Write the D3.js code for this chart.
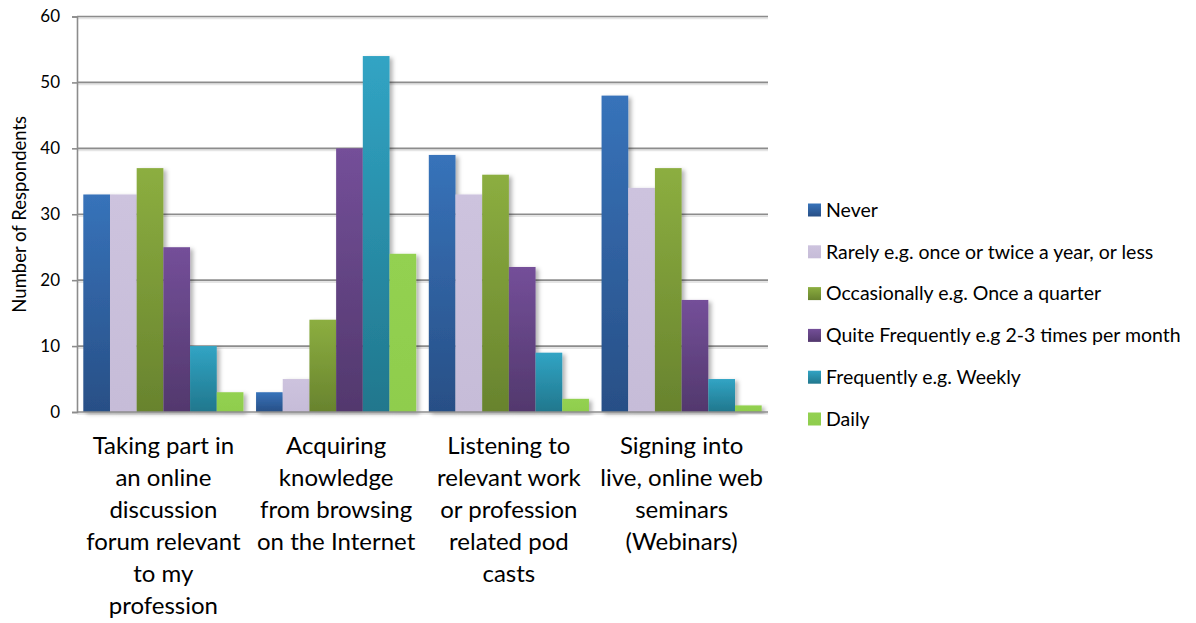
<!DOCTYPE html>
<html>
<head>
<meta charset="utf-8">
<script src="https://cdn.jsdelivr.net/npm/d3@7"></script>
<style>
  html, body { margin: 0; padding: 0; background: #fff; }
  svg { display: block; font-family: "Lato", "Open Sans", sans-serif; }
</style>
</head>
<body>
<svg id="chart" width="1196" height="623"></svg>
<script>
// Survey activities (x categories), each split into multi-line labels
const categories = [
  ["Taking part in", "an online", "discussion", "forum relevant", "to my", "profession"],
  ["Acquiring", "knowledge", "from browsing", "on the Internet"],
  ["Listening to", "relevant work", "or profession", "related pod", "casts"],
  ["Signing into", "live, online web", "seminars", "(Webinars)"]
];
const seriesNames = [
  "Never",
  "Rarely e.g. once or twice a year, or less",
  "Occasionally e.g. Once a quarter",
  "Quite Frequently e.g 2-3 times per month",
  "Frequently e.g. Weekly",
  "Daily"
];
// Respondent counts per series, one value per category
const never        = [33, 3, 39, 48];
const rarely       = [33, 5, 33, 34];
const occasionally = [37, 14, 36, 37];
const quiteFreq    = [25, 40, 22, 17];
const frequently   = [10, 54, 9, 5];
const daily        = [3, 24, 2, 1];
const yTicks = [0, 10, 20, 30, 40, 50, 60];

const seriesValues = [never, rarely, occasionally, quiteFreq, frequently, daily];
// gradient stops (top, bottom) per series
const seriesColors = [
  ["#3773ba", "#284f86"],
  ["#cdc3de", "#c6bcd8"],
  ["#8cae40", "#68832e"],
  ["#744f99", "#52386d"],
  ["#31a4c4", "#21778d"],
  ["#93d151", "#8fcd4d"]
];

const svg = d3.select("#chart");
const plot = { left: 77, right: 768, top: 16.5, bottom: 412 };

const defs = svg.append("defs");
seriesColors.forEach((c, i) => {
  const g = defs.append("linearGradient")
    .attr("id", "grad" + i).attr("x1", 0).attr("y1", 0).attr("x2", 0).attr("y2", 1);
  g.append("stop").attr("offset", "0%").attr("stop-color", c[0]);
  g.append("stop").attr("offset", "100%").attr("stop-color", c[1]);
});
const shadow = defs.append("filter").attr("id", "shadow")
  .attr("x", "-20%").attr("y", "-20%").attr("width", "150%").attr("height", "150%");
shadow.append("feDropShadow").attr("dx", 3).attr("dy", 2)
  .attr("stdDeviation", 2).attr("flood-color", "#000").attr("flood-opacity", 0.3);

const x0 = d3.scaleBand().domain(d3.range(categories.length))
  .range([plot.left, plot.right]);
// bars fill the middle of each category, leaving a gap split on both sides
const gapFrac = 0.073;
const x1 = d3.scaleBand().domain(d3.range(seriesNames.length))
  .range([x0.bandwidth() * gapFrac / 2, x0.bandwidth() * (1 - gapFrac / 2)]);
const y = d3.scaleLinear().domain([0, 60]).range([plot.bottom, plot.top]);

// gridlines with a soft shadow line underneath
const grid = svg.append("g");
grid.selectAll("line.sh").data(yTicks).join("line").attr("class", "sh")
  .attr("x1", plot.left).attr("x2", plot.right)
  .attr("y1", d => y(d) + 1.8).attr("y2", d => y(d) + 1.8)
  .attr("stroke", "#000").attr("stroke-opacity", 0.1).attr("stroke-width", 2);
grid.selectAll("line.gl").data(yTicks.filter(t => t > 0)).join("line").attr("class", "gl")
  .attr("x1", plot.left).attr("x2", plot.right)
  .attr("y1", d => y(d)).attr("y2", d => y(d))
  .attr("stroke", "#8c8c8c").attr("stroke-width", 1.6);

// bars
const groups = svg.append("g").selectAll("g").data(categories).join("g")
  .attr("transform", (d, i) => `translate(${x0(i)},0)`);
groups.selectAll("rect")
  .data((d, ci) => seriesValues.map((vals, si) => ({ si, v: vals[ci] })))
  .join("rect")
  .attr("x", d => x1(d.si))
  .attr("width", x1.bandwidth())
  .attr("y", d => y(d.v))
  .attr("height", d => y(0) - y(d.v))
  .attr("fill", d => `url(#grad${d.si})`)
  .attr("filter", "url(#shadow)");

// axes
const yAxis = d3.axisLeft(y).tickValues(yTicks).tickSize(5).tickPadding(12);
const ya = svg.append("g").attr("transform", `translate(${plot.left},0)`).call(yAxis);
ya.select(".domain").attr("stroke", "#8c8c8c").attr("stroke-width", 1.6);
ya.selectAll(".tick line").attr("stroke", "#8c8c8c").attr("stroke-width", 1.6);
ya.selectAll(".tick text").attr("font-size", 17).attr("fill", "#000")
  .attr("font-family", "Lato, 'Open Sans', sans-serif");

svg.append("line")
  .attr("x1", plot.left).attr("x2", plot.right)
  .attr("y1", y(0)).attr("y2", y(0))
  .attr("stroke", "#8c8c8c").attr("stroke-width", 1.6);

// y axis title
svg.append("text")
  .attr("transform", `translate(26,${(plot.top + plot.bottom) / 2}) rotate(-90)`)
  .attr("text-anchor", "middle").attr("font-size", 18.5).text("Number of Respondents");

// category labels
const catLabels = svg.append("g").selectAll("text").data(categories).join("text")
  .attr("text-anchor", "middle").attr("font-size", 24).attr("fill", "#000")
  .attr("x", (d, i) => x0(i) + x0.bandwidth() / 2)
  .attr("y", 454);
catLabels.selectAll("tspan").data(d => d).join("tspan")
  .attr("x", function () { return this.parentNode.getAttribute("x"); })
  .attr("dy", (d, i) => i === 0 ? 0 : 32)
  .text(d => d);

// legend
const legendY = d3.scalePoint().domain(d3.range(seriesNames.length)).range([210, 419]);
const legend = svg.append("g").selectAll("g").data(seriesNames).join("g")
  .attr("transform", (d, i) => `translate(808,${legendY(i)})`);
legend.append("rect").attr("x", 0).attr("y", -6.5).attr("width", 13).attr("height", 13)
  .attr("fill", (d, i) => `url(#grad${i})`);
legend.append("text").attr("x", 18).attr("y", 0).attr("dy", "0.35em")
  .attr("font-size", 19.5).text(d => d);
</script>
</body>
</html>
